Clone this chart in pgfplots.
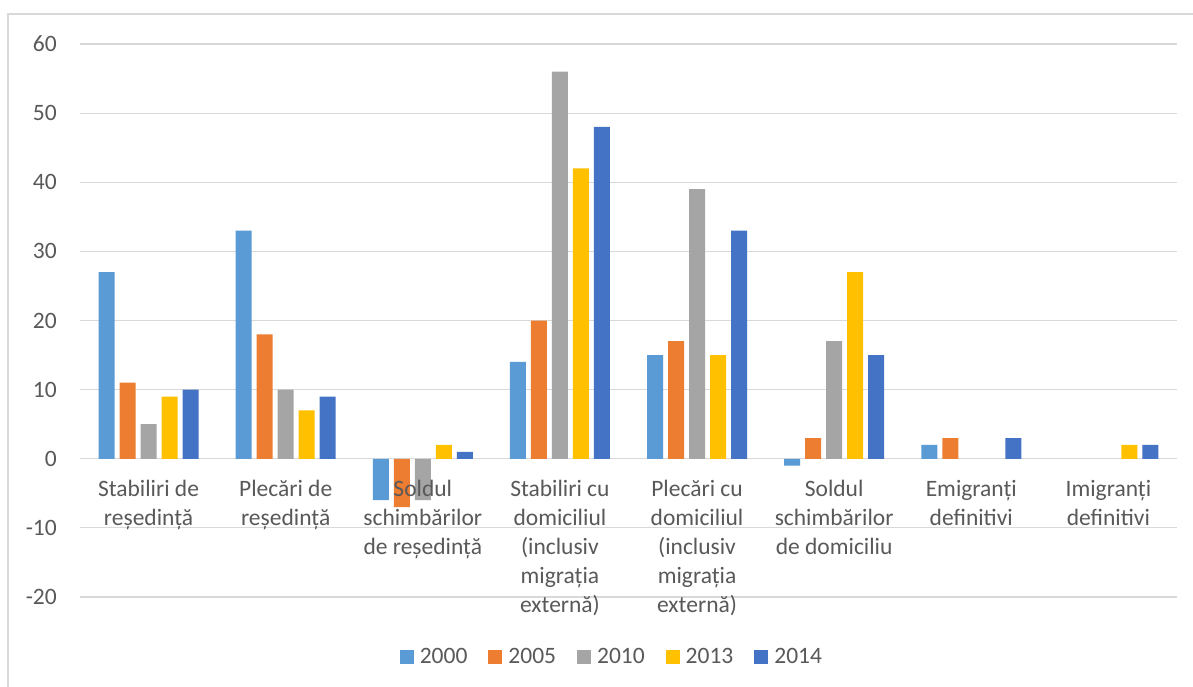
\documentclass[border=0pt]{standalone}
\usepackage{pgfplots}
\pgfplotsset{compat=1.18}
\usepackage{fontspec}
\setmainfont{Carlito}
\definecolor{c2000}{HTML}{5B9BD5}
\definecolor{c2005}{HTML}{ED7D31}
\definecolor{c2010}{HTML}{A5A5A5}
\definecolor{c2013}{HTML}{FFC000}
\definecolor{c2014}{HTML}{4472C4}
\definecolor{txt}{HTML}{595959}
\definecolor{grd}{HTML}{D9D9D9}
\tikzset{catlabel/.style={anchor=north, align=center, inner sep=0pt, yshift=-21bp,
    text=txt, font=\fontsize{23.5bp}{29bp}\selectfont}}
\begin{document}
\begin{tikzpicture}
\useasboundingbox (0,0) rectangle (1193bp,687bp);
\fill[white] (0,0) rectangle (1193bp,687bp);
\draw[grd, line width=1.5bp] (8bp,0) -- (8bp,673bp) -- (1193bp,673bp);
\begin{axis}[
  at={(80bp,90bp)}, anchor=south west, scale only axis,
  width=1097bp, height=553bp,
  ybar=5bp, bar width=16bp,
  xmin=-0.5, xmax=7.5, ymin=-20, ymax=60,
  ytick={-20,-10,...,60},
  xtick={0,...,7}, xticklabels={},
  axis line style={draw=none}, major tick length=0pt,
  ymajorgrids, grid style={grd, line width=1.2bp},
  clip=false,
  /pgf/number format/assume math mode=true,
  tick label style={text=txt, font=\fontsize{23.5bp}{29bp}\selectfont},
  yticklabel style={anchor=east, inner sep=0pt, xshift=-23bp},
  legend style={at={(0.484,-0.1085)}, anchor=center, draw=none, fill=none,
    font=\fontsize{23.5bp}{29bp}\selectfont, text=txt, legend columns=5,
    nodes={inner sep=0pt},
    /tikz/every odd column/.style={column sep=6bp},
    /tikz/every even column/.style={column sep=21bp}},
  legend image code/.code={\fill[#1] (0bp,-7bp) rectangle (14bp,7bp);},
]
\addplot[fill=c2000, draw=none] coordinates {(0,27) (1,33) (2,-6) (3,14) (4,15) (5,-1) (6,2)};
\addplot[fill=c2005, draw=none] coordinates {(0,11) (1,18) (2,-7) (3,20) (4,17) (5,3) (6,3)};
\addplot[fill=c2010, draw=none] coordinates {(0,5) (1,10) (2,-6) (3,56) (4,39) (5,17)};
\addplot[fill=c2013, draw=none] coordinates {(0,9) (1,7) (2,2) (3,42) (4,15) (5,27) (7,2)};
\addplot[fill=c2014, draw=none] coordinates {(0,10) (1,9) (2,1) (3,48) (4,33) (5,15) (6,3) (7,2)};
\legend{2000,2005,2010,2013,2014}
\node[catlabel] at (axis cs:0,0) {Stabiliri de\\reședință};
\node[catlabel] at (axis cs:1,0) {Plecări de\\reședință};
\node[catlabel] at (axis cs:2,0) {Soldul\\schimbărilor\\de reședință};
\node[catlabel] at (axis cs:3,0) {Stabiliri cu\\domiciliul\\(inclusiv\\migrația\\externă)};
\node[catlabel] at (axis cs:4,0) {Plecări cu\\domiciliul\\(inclusiv\\migrația\\externă)};
\node[catlabel] at (axis cs:5,0) {Soldul\\schimbărilor\\de domiciliu};
\node[catlabel] at (axis cs:6,0) {Emigranți\\definitivi};
\node[catlabel] at (axis cs:7,0) {Imigranți\\definitivi};
\end{axis}
\end{tikzpicture}
\end{document}
